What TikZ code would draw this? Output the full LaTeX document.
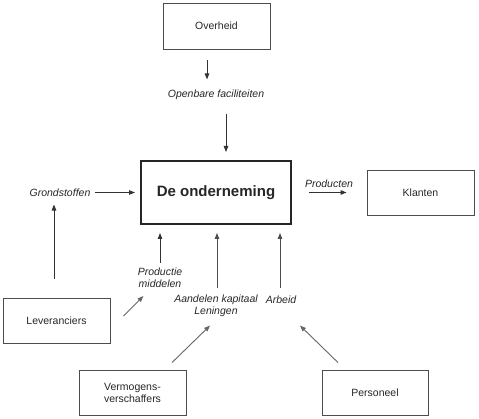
\documentclass[tikz,border=0pt]{standalone}
\usepackage{fontspec}
\setmainfont{Liberation Sans}
\usetikzlibrary{arrows.meta}
\begin{document}
\begin{tikzpicture}[x=1pt,y=1pt,
	blok/.style={draw=black!70,line width=0.9pt,minimum width=107pt,minimum height=45pt,align=center,font=\fontsize{10.5}{12}\selectfont,text=black!85},
	stroom/.style={font=\fontsize{10.5}{12}\selectfont\itshape,align=center,text=black!85},
	pijl/.style={-{Triangle[length=6pt,width=4.5pt]},line width=0.9pt,draw=black!80},
	grijs/.style={pijl,draw=black!60}]
\useasboundingbox (0,0) rectangle (479,418);
\node[blok,minimum height=46pt] (overheid) at (216.5,392) {Overheid};
\node[stroom] (openbaar) at (216,323) {Openbare faciliteiten};
\node[blok,draw=black!85,line width=2pt,minimum width=150pt,minimum height=63pt,font=\fontsize{15}{18}\selectfont\bfseries] (onderneming) at (216,225.5) {De onderneming};
\node[blok] (klanten) at (420.5,225.5) {Klanten};
\node[stroom] (producten) at (329,234) {Producten};
\node[stroom] (grondstoffen) at (60,225) {Grondstoffen};
\node[blok] (leveranciers) at (56.5,97.5) {Leveranciers};
\node[stroom,font=\fontsize{10.5}{12}\selectfont\itshape] (productie) at (160,140) {Productie\\middelen};
\node[stroom] (aandelen) at (216,112) {Aandelen kapitaal\\Leningen};
\node[stroom] (arbeid) at (281,118) {Arbeid};
\node[blok,font=\fontsize{10.5}{12}\selectfont] (vermogens) at (132.5,25.5) {Vermogens-\\verschaffers};
\node[blok,minimum width=106pt] (personeel) at (375,25.5) {Personeel};
\draw[pijl] ([xshift=-9.5pt,yshift=-11pt]overheid.south) -- ++(0,-19);
\draw[pijl] ([xshift=10pt,yshift=46pt]onderneming.north) -- ([xshift=10pt,yshift=8pt]onderneming.north);
\draw[pijl] ([xshift=-45pt]onderneming.west) -- ([xshift=-5pt]onderneming.west);
\draw[pijl] ([xshift=17pt]onderneming.east) -- ([xshift=-20pt]klanten.west);
\draw[pijl] ([xshift=-2.5pt,yshift=19pt]leveranciers.north) -- ++(0,74);
\draw[grijs] ([xshift=13pt,yshift=4.5pt]leveranciers.east) -- ++(20,20);
\draw[pijl] ([xshift=-56pt,yshift=-38pt]onderneming.south) -- ([xshift=-56pt,yshift=-8pt]onderneming.south);
\draw[pijl,draw=black!70] ([xshift=1pt,yshift=-63pt]onderneming.south) -- ([xshift=1pt,yshift=-8pt]onderneming.south);
\draw[pijl,draw=black!70] ([xshift=64pt,yshift=-63pt]onderneming.south) -- ([xshift=64pt,yshift=-8pt]onderneming.south);
\draw[grijs] ([xshift=39.5pt,yshift=7pt]vermogens.north) -- ++(38,37);
\draw[grijs] ([xshift=-37pt,yshift=7pt]personeel.north) -- ++(-38,37);
\end{tikzpicture}
\end{document}
